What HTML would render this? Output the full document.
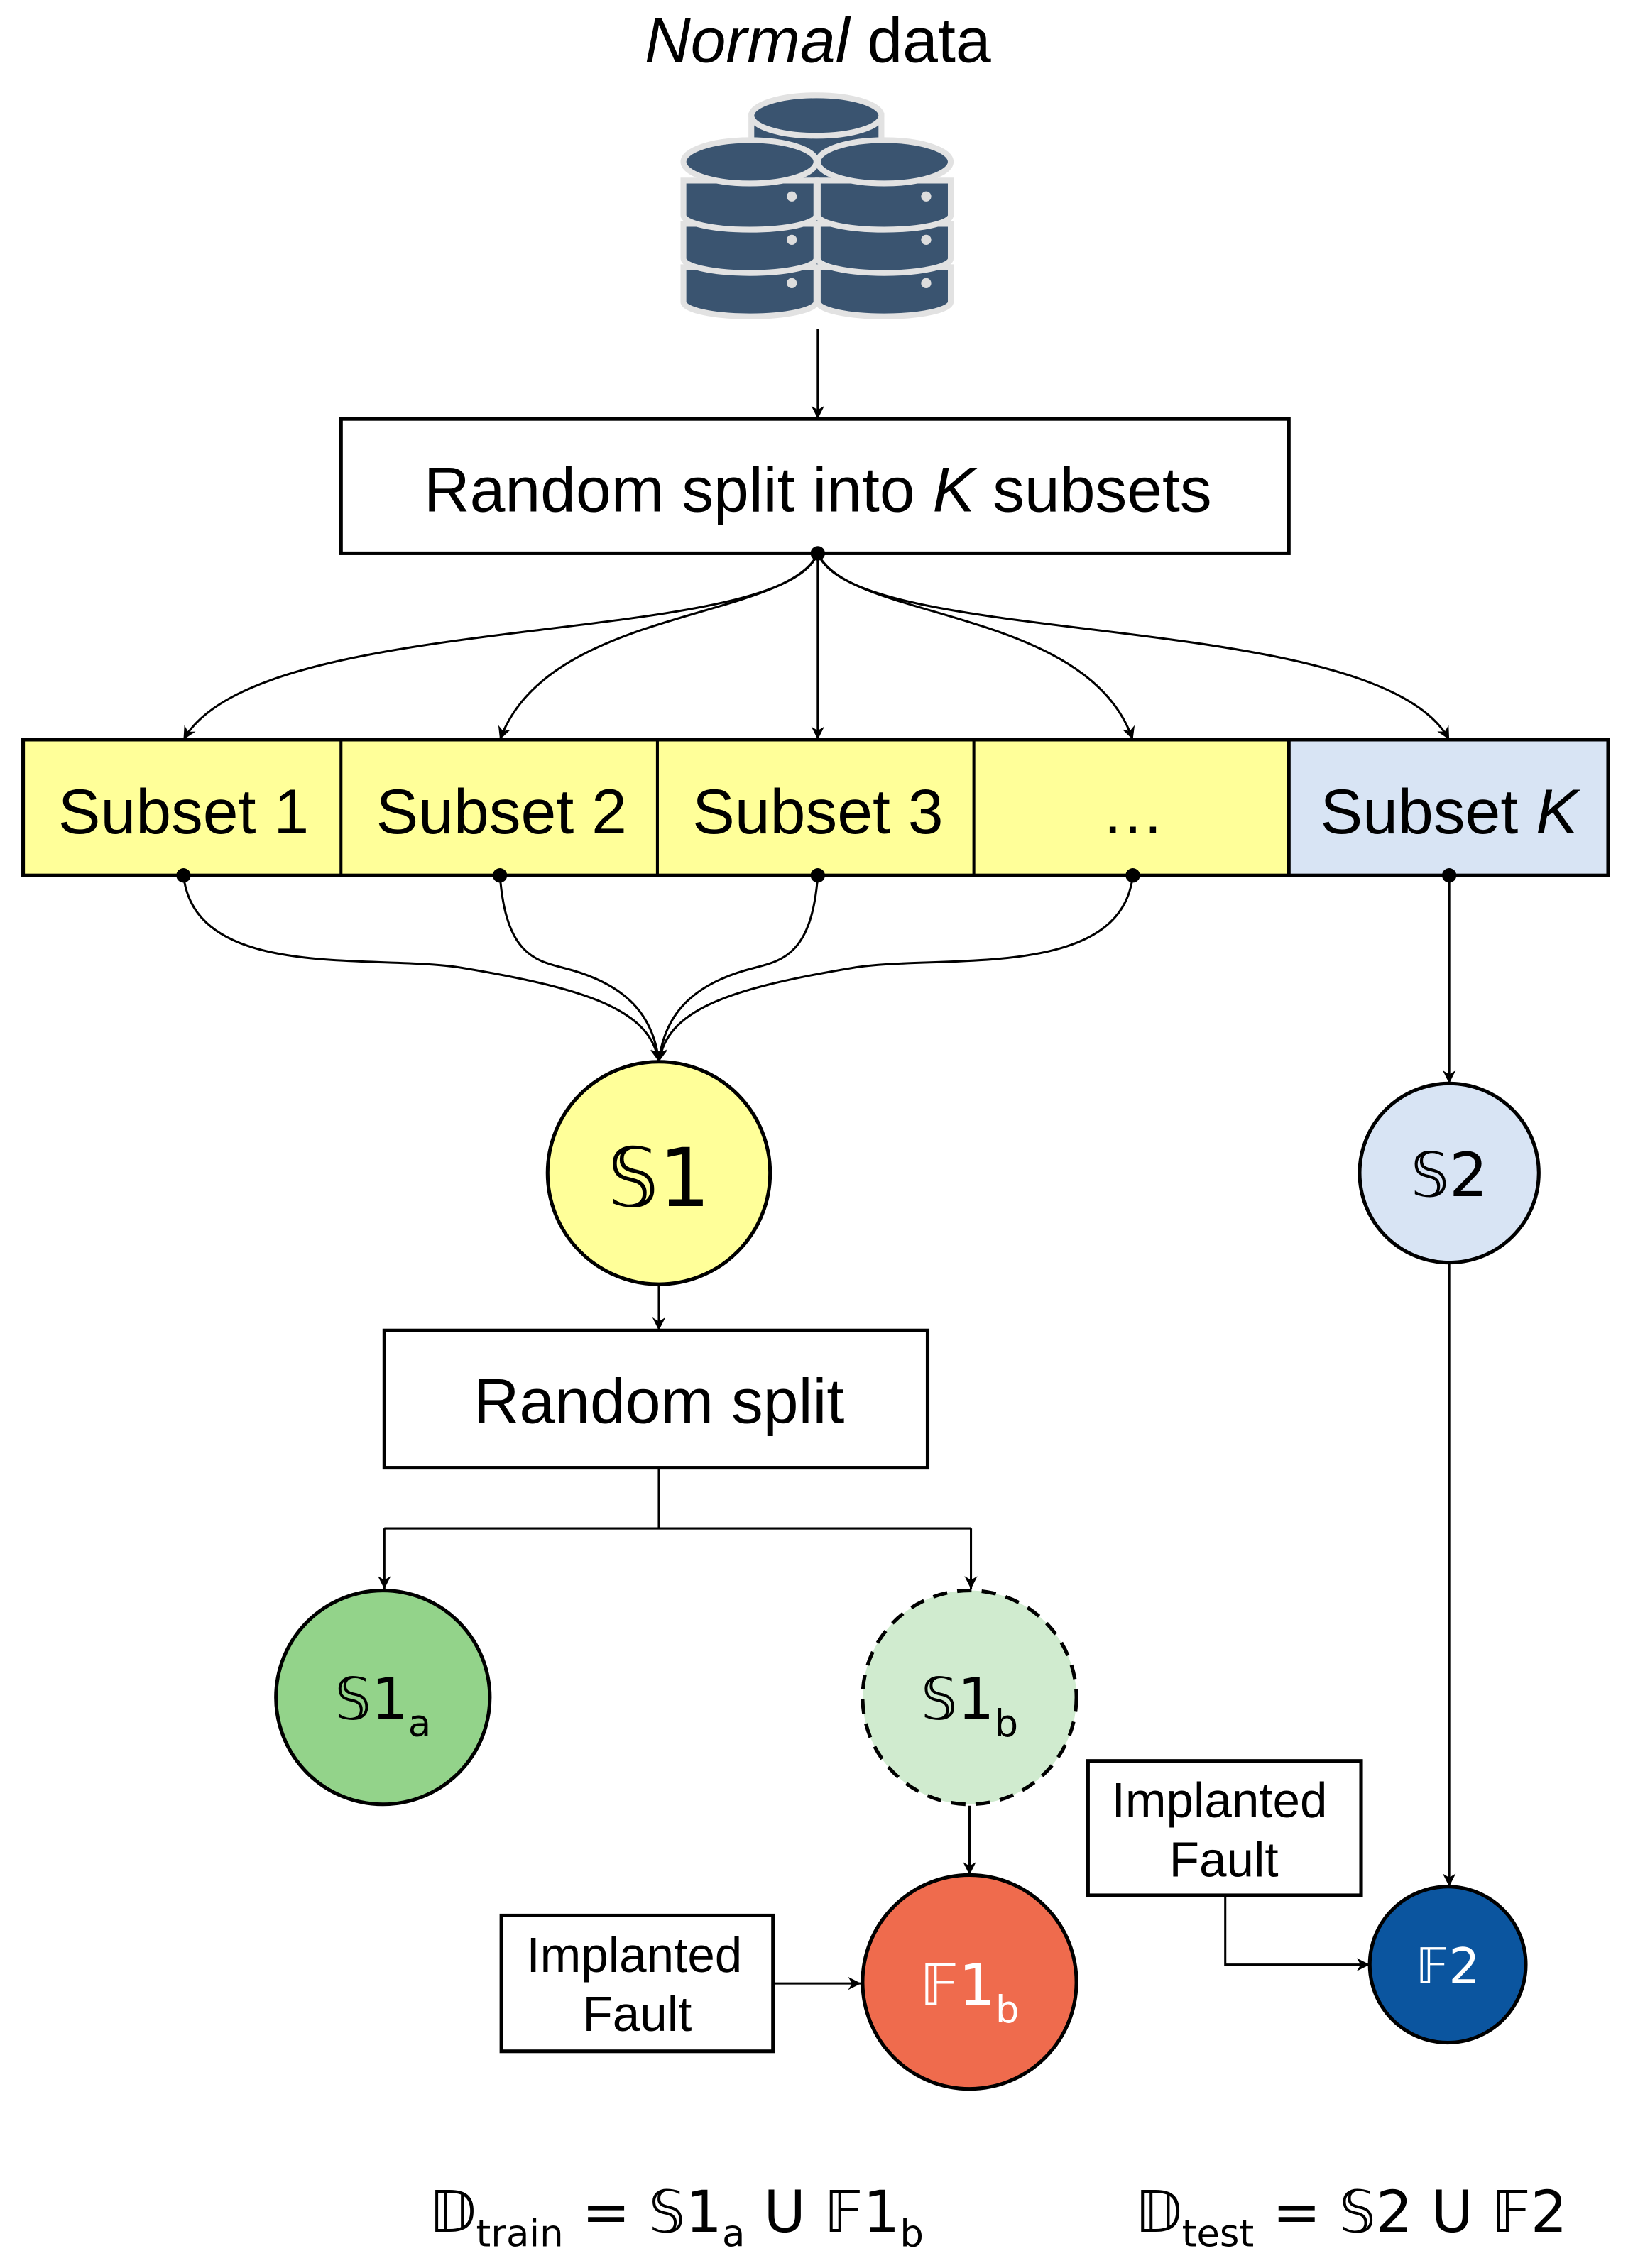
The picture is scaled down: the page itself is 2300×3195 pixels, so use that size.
<!DOCTYPE html>
<html><head><meta charset="utf-8"><style>
html,body{margin:0;padding:0;background:#fff}
svg{display:block}
text{font-family:"Liberation Sans","DejaVu Sans",sans-serif}
.m{font-family:"DejaVu Sans","Liberation Sans",sans-serif}
</style></head><body>
<svg width="2300" height="3195" viewBox="0 0 1130.2 1570" preserveAspectRatio="none" xmlns="http://www.w3.org/2000/svg">
<defs>
<marker id="a" viewBox="0 0 10 10" refX="10" refY="5" markerWidth="9" markerHeight="9" markerUnits="userSpaceOnUse" orient="auto">
<path d="M0,0 L10,5 L0,10 L3,5 Z" fill="#000"/></marker>
</defs>
<rect width="1130.2" height="1570" fill="#fff"/>
<text x="566" y="43" font-size="44" text-anchor="middle"><tspan font-style="italic">Normal</tspan> data</text>
<!-- DB icon -->
<g stroke="#e2e2e2" stroke-width="4" fill="#3a5470">
<rect x="520" y="80" width="90" height="110"/>
<ellipse cx="565" cy="80" rx="45" ry="14"/>
<g id="stk">
<path d="M473,185 v24 a46,10 0 0 0 92,0 v-24 z"/>
<path d="M473,155 v24 a46,10 0 0 0 92,0 v-24 z"/>
<path d="M473,125 v24 a46,10 0 0 0 92,0 v-24 z"/>
<ellipse cx="519" cy="112" rx="46" ry="15"/>
<circle cx="548" cy="136" r="3.5" fill="#ddd" stroke="none"/>
<circle cx="548" cy="166" r="3.5" fill="#ddd" stroke="none"/>
<circle cx="548" cy="196" r="3.5" fill="#ddd" stroke="none"/>
</g>
<use href="#stk" x="93"/>
</g>
<line x1="566" y1="228" x2="566" y2="290" stroke="#000" stroke-width="1.5" marker-end="url(#a)"/>
<rect x="236" y="290" width="656" height="93" fill="#fff" stroke="#000" stroke-width="2.5"/>
<text x="566" y="354" font-size="44" text-anchor="middle">Random split into <tspan font-style="italic">K</tspan> subsets</text>
<circle cx="566" cy="383" r="5" fill="#000"/>
<g fill="none" stroke="#000" stroke-width="1.5" marker-end="url(#a)">
<path d="M566,383 C540,450 180,420 127,512"/>
<path d="M566,383 C545,430 380,420 346,512"/>
<path d="M566,383 L566,512"/>
<path d="M566,383 C587,430 752,420 784,512"/>
<path d="M566,383 C592,450 952,420 1003,512"/>
</g>
<rect x="16" y="512" width="876" height="94" fill="#ffff99" stroke="#000" stroke-width="2.5"/>
<rect x="892" y="512" width="221" height="94" fill="#d8e4f4" stroke="#000" stroke-width="2.5"/>
<g stroke="#000" stroke-width="2"><line x1="236" y1="512" x2="236" y2="606"/><line x1="455" y1="512" x2="455" y2="606"/><line x1="674" y1="512" x2="674" y2="606"/></g>
<g font-size="44" text-anchor="middle">
<text x="127" y="577">Subset 1</text><text x="347" y="577">Subset 2</text><text x="566" y="577">Subset 3</text><text x="784" y="577">…</text>
<text x="1003" y="577">Subset <tspan font-style="italic">K</tspan></text></g>
<g fill="#000"><circle cx="127" cy="606" r="5"/><circle cx="346" cy="606" r="5"/><circle cx="566" cy="606" r="5"/><circle cx="784" cy="606" r="5"/><circle cx="1003" cy="606" r="5"/></g>
<g fill="none" stroke="#000" stroke-width="1.5" marker-end="url(#a)">
<path d="M127,606 C135,680 260,660 320,670 C410,685 450,700 456,735"/>
<path d="M346,606 C350,660 370,665 390,670 C430,680 452,700 456,735"/>
<path d="M566,606 C562,660 542,665 522,670 C482,680 460,700 456,735"/>
<path d="M784,606 C776,680 650,660 590,670 C500,685 462,700 456,735"/>
<path d="M1003,606 L1003,750"/>
</g>
<circle cx="456" cy="812" r="77" fill="#ffff99" stroke="#000" stroke-width="2.5"/>
<text class="m" x="456" y="835" font-size="56" text-anchor="middle">𝕊1</text>
<circle cx="1003" cy="812" r="62" fill="#d8e4f4" stroke="#000" stroke-width="2.5"/>
<text class="m" x="1003" y="828" font-size="42" text-anchor="middle">𝕊2</text>
<line x1="456" y1="890" x2="456" y2="921" stroke="#000" stroke-width="1.5" marker-end="url(#a)"/>
<rect x="266" y="921" width="376" height="95" fill="#fff" stroke="#000" stroke-width="2.5"/>
<text x="456" y="985" font-size="44" text-anchor="middle">Random split</text>
<g fill="none" stroke="#000" stroke-width="1.5">
<path d="M456,1016 V1058 M266,1058 H672"/>
<path d="M266,1058 V1100" marker-end="url(#a)"/>
<path d="M672,1058 V1100" marker-end="url(#a)"/>
<path d="M671,1250 V1298" marker-end="url(#a)"/>
<path d="M535,1373 H596" marker-end="url(#a)"/>
<path d="M848,1312 V1360 H948" marker-end="url(#a)"/>
<path d="M1003,874 V1306" marker-end="url(#a)"/>
</g>
<circle cx="265" cy="1175" r="74" fill="#93d38a" stroke="#000" stroke-width="2.5"/>
<text class="m" x="265" y="1190" font-size="40" text-anchor="middle">𝕊1<tspan font-size="26" dy="12">a</tspan></text>
<circle cx="671" cy="1175" r="74" fill="#d0ebcf" stroke="#000" stroke-width="2.5" stroke-dasharray="10,7"/>
<text class="m" x="671" y="1190" font-size="40" text-anchor="middle">𝕊1<tspan font-size="26" dy="12">b</tspan></text>
<circle cx="671" cy="1372" r="74" fill="#ef6b4d" stroke="#000" stroke-width="2.5"/>
<text class="m" x="671" y="1388" font-size="40" text-anchor="middle" fill="#fff">𝔽1<tspan font-size="26" dy="12">b</tspan></text>
<rect x="347" y="1326" width="188" height="94" fill="#fff" stroke="#000" stroke-width="2.5"/>
<text x="439" y="1365" font-size="34" text-anchor="middle">Implanted</text>
<text x="441" y="1406" font-size="34" text-anchor="middle">Fault</text>
<rect x="753" y="1219" width="189" height="93" fill="#fff" stroke="#000" stroke-width="2.5"/>
<text x="844" y="1258" font-size="34" text-anchor="middle">Implanted</text>
<text x="847" y="1299" font-size="34" text-anchor="middle">Fault</text>
<circle cx="1002" cy="1360" r="54" fill="#0b559f" stroke="#000" stroke-width="2.5"/>
<text class="m" x="1002" y="1373" font-size="34" text-anchor="middle" fill="#fff">𝔽2</text>
<text class="m" x="468" y="1545" font-size="40" text-anchor="middle">𝔻<tspan font-size="26" dy="10">train</tspan><tspan dy="-10"> = 𝕊1</tspan><tspan font-size="26" dy="10">a</tspan><tspan dy="-10"> U 𝔽1</tspan><tspan font-size="26" dy="10">b</tspan></text>
<text class="m" x="935" y="1545" font-size="40" text-anchor="middle">𝔻<tspan font-size="26" dy="10">test</tspan><tspan dy="-10"> = 𝕊2 U 𝔽2</tspan></text>
</svg>
</body></html>
